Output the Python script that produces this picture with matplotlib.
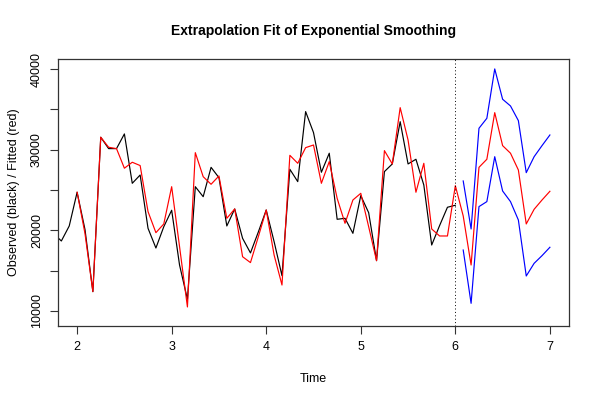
import numpy as np
import matplotlib
matplotlib.use('Agg')
import matplotlib.pyplot as plt

plt.rcParams['font.family'] = ['Liberation Sans', 'DejaVu Sans']

# observed series, monthly, starting at 1 + 9/12
obs_start = 1.75
observed = [19600, 18680, 20540, 24720, 20100, 12400, 31540, 30130, 30130, 31950,
            25830, 26860, 20250, 17810, 20450, 22490, 15700, 11450, 25410, 24170,
            27810, 26530, 20540, 22650, 19010, 17200, 19800, 22520, 18600, 14380,
            27570, 26040, 34720, 32120, 27200, 29560, 21370, 21490, 19630, 24300,
            22190, 16240, 27280, 28230, 33470, 28230, 28810, 25620, 18180, 20580,
            22860, 23110]

# fitted values, starting at 2.0
fit_start = 2.0
fitted = [24720, 19600, 12400, 31540, 30300, 30130, 27700, 28440, 28030, 22320,
          19710, 20790, 25410, 17980, 10500, 29630, 26650, 25710, 26740, 21490,
          22650, 16730, 16000, 19210, 22520, 16940, 13220, 29300, 28310, 30250,
          30580, 25830, 28520, 23970, 20870, 23760, 24590, 20450, 16240, 29880,
          28230, 35210, 31200, 24720, 28310, 20170, 19300, 19300, 25540]

# forecast with bounds, starting at 6 + 1/12
fc_start = 6 + 1 / 12
forecast = [21780, 15700, 27810, 28810, 34590, 30500, 29560, 27480, 20790, 22610,
            23760, 24840]
upper = [26120, 20170, 32650, 33890, 40010, 36250, 35420, 33600, 27150, 29130,
         30500, 31820]
lower = [17560, 10950, 22940, 23560, 29130, 24880, 23560, 21280, 14340, 15910,
         16860, 17900]


def times(start, n):
    return start + np.arange(n) / 12.0


fig = plt.figure(figsize=(6, 4), dpi=100)
ax = fig.add_axes([0.097, 0.185, 0.851, 0.6675])

t_obs = times(obs_start, len(observed))
t_fit = times(fit_start, len(fitted))
t_fc = times(fc_start, len(forecast))

ax.plot(t_obs, observed, color='black', lw=0.85)
red_t = np.concatenate([t_fit, t_fc])
red_v = np.concatenate([fitted, forecast])
ax.plot(red_t, red_v, color='red', lw=0.85)
ax.plot(t_fc, upper, color='blue', lw=0.85)
ax.plot(t_fc, lower, color='blue', lw=0.85)
ax.axvline(6.0, color='black', lw=0.7, ls=(0, (1, 2.5)))

ax.set_xlim(1.8, 7.2)
ax.set_ylim(8140, 41240)
ax.set_xticks([2, 3, 4, 5, 6, 7])
yt = np.arange(10000, 40001, 5000)
ax.set_yticks(yt)
ax.set_yticklabels([str(v) if v % 10000 == 0 else '' for v in yt],
                   rotation=90, va='center')
ax.tick_params(direction='out', length=6, width=0.8, labelsize=9, pad=5,
               color='#333333')

for s in ax.spines.values():
    s.set_linewidth(0.9)
    s.set_color('#333333')

ax.set_xlabel('Time', fontsize=9, labelpad=14)
ax.set_ylabel('Observed (black) / Fitted (red)', fontsize=9, labelpad=8)
ax.set_title('Extrapolation Fit of Exponential Smoothing', fontsize=10,
             fontweight='bold', pad=17)

fig.savefig('out.png', dpi=100)
